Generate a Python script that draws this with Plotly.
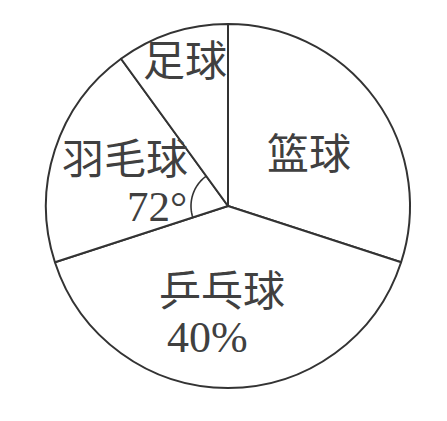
import math
import plotly.graph_objects as go

# Data
categories = ["篮球", "乒乓球", "羽毛球", "足球"]
values = [30, 40, 20, 10]  # percent
label_texts = ["篮球", "乒乓球", "羽毛球", "足球"]
value_texts = ["", "40%", "72°", ""]

W, H = 447, 421
CX, CY, R = 228, 206, 182
LINE = "#333333"
TXT = "#404040"

fig = go.Figure()

fig.add_trace(go.Pie(
    labels=categories,
    values=values,
    sort=False,
    direction="clockwise",
    rotation=0,
    textinfo="none",
    hoverinfo="label+percent",
    marker=dict(colors=["white"] * 4, line=dict(color=LINE, width=2)),
    domain=dict(x=[(CX - R) / W, (CX + R) / W], y=[(H - CY - R) / H, (H - CY + R) / H]),
    showlegend=False,
))

# Angle arc for 羽毛球 slice (computed from values)
total = sum(values)
start = sum(values[:2]) / total * 360
end = sum(values[:3]) / total * 360
ar = 37
n = 40
pts = []
for i in range(n + 1):
    a = math.radians(start + (end - start) * i / n)
    pts.append((CX + ar * math.sin(a), CY - ar * math.cos(a)))
path = "M " + " L ".join(f"{x:.2f},{y:.2f}" for x, y in pts)
fig.add_shape(type="path", path=path, xref="x", yref="y", layer="above",
              line=dict(color=LINE, width=1.6))

cjk = "Liberation Serif, Noto Sans CJK SC"
ann = [
    (label_texts[3], 185, 62, 42),
    (label_texts[0], 309, 155, 42),
    (label_texts[2], 125, 160, 42),
    (value_texts[2], 157, 206, 43),
    (label_texts[1], 222, 292, 42),
    (value_texts[1], 207, 337, 44),
]
for t, x, y, s in ann:
    fig.add_annotation(x=x, y=y, xref="x", yref="y", text=t, showarrow=False,
                       font=dict(family=cjk, size=s, color=TXT))

fig.update_layout(
    width=W, height=H,
    margin=dict(l=0, r=0, t=0, b=0),
    paper_bgcolor="white", plot_bgcolor="rgba(0,0,0,0)",
    xaxis=dict(range=[0, W], visible=False, domain=[0, 1], fixedrange=True),
    yaxis=dict(range=[H, 0], visible=False, domain=[0, 1], fixedrange=True),
)

fig.write_html("out.html", config={"displayModeBar": False},
               post_script="document.body.style.margin='0px';")
